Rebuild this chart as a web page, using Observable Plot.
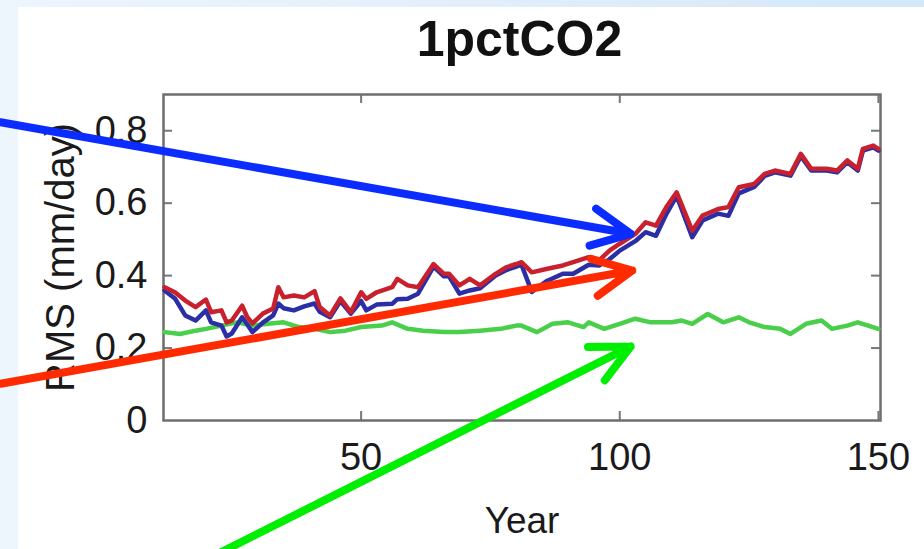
<!DOCTYPE html>
<html>
<head>
<meta charset="utf-8">
<script src="https://cdn.jsdelivr.net/npm/d3@7"></script>
<script src="https://cdn.jsdelivr.net/npm/@observablehq/plot@0.6"></script>
<style>
  html, body { margin: 0; padding: 0; background: #fff; }
  #page { position: relative; width: 924px; height: 549px; overflow: hidden;
          background: linear-gradient(90deg, #edf5fd 0%, #e2effb 50%, #d3e8f8 100%);
          font-family: "Liberation Sans", Arial, Helvetica, sans-serif; }
  #panel { position: absolute; left: 18px; top: 7px; right: 0; bottom: 0; background: #fff; }
  #title { position: relative; box-sizing: border-box; height: 75px; padding-top: 14px;
           margin-left: 155px; width: 729px; text-align: center; font-weight: bold;
           font-size: 50px; line-height: 50px; color: #111; }
  #chart { position: relative; }
</style>
</head>
<body>
<div id="page">
  <div id="panel"></div>
  <div id="title">1pctCO2</div>
  <div id="chart"></div>
</div>
<script>
const titleText = "1pctCO2";
const xLabel = "Year";
const yLabel = "RMS (mm/day)";
const xTicks = [50, 100, 150];
const yTicks = [0, 0.2, 0.4, 0.6, 0.8];
const yTickLabels = ["0", "0.2", "0.4", "0.6", "0.8"];

// Years shared by the red and blue series
const rbYears = [12,14,16,18,20,21,23,24,25,27,28,29,31,33,34,35,37,39,41,42,44,46,48,50,51,53,56,57,59,61,64,66,67,69,71,73,76,78,80,81,83,86,89,91,94,96,98,100,103,105,107,109,111,114,116,119,121,123,126,128,130,133,135,137,140,142,144,146,147,149,150];
const redValues = [0.368,0.354,0.331,0.313,0.334,0.299,0.304,0.271,0.276,0.317,0.285,0.268,0.295,0.309,0.368,0.340,0.345,0.340,0.357,0.313,0.290,0.337,0.299,0.354,0.336,0.354,0.368,0.391,0.373,0.368,0.432,0.405,0.405,0.373,0.391,0.373,0.405,0.423,0.432,0.437,0.409,0.419,0.428,0.437,0.451,0.442,0.469,0.488,0.515,0.547,0.538,0.589,0.630,0.524,0.566,0.584,0.589,0.644,0.653,0.681,0.690,0.681,0.736,0.695,0.695,0.690,0.718,0.695,0.750,0.759,0.750];
const blueValues = [0.359,0.337,0.290,0.276,0.304,0.271,0.262,0.232,0.240,0.285,0.265,0.244,0.270,0.290,0.323,0.310,0.304,0.315,0.323,0.300,0.285,0.330,0.295,0.330,0.304,0.320,0.322,0.335,0.336,0.350,0.425,0.398,0.398,0.350,0.359,0.365,0.400,0.415,0.425,0.430,0.355,0.386,0.405,0.405,0.430,0.428,0.445,0.469,0.495,0.520,0.510,0.570,0.620,0.506,0.552,0.571,0.565,0.627,0.645,0.675,0.685,0.676,0.730,0.690,0.690,0.685,0.713,0.690,0.745,0.754,0.745];

const greenYears = [12,15,18,20,23,26,29,32,35,38,41,44,47,50,54,56,59,62,66,69,73,77,80,81,84,87,90,93,94,97,100,103,106,110,112,114,117,120,123,125,128,131,133,136,139,141,144,146,148,150];
const greenValues = [0.244,0.239,0.248,0.253,0.262,0.271,0.262,0.267,0.271,0.258,0.253,0.244,0.248,0.258,0.262,0.271,0.253,0.248,0.244,0.244,0.248,0.253,0.262,0.262,0.244,0.267,0.271,0.258,0.271,0.253,0.267,0.281,0.271,0.271,0.276,0.267,0.294,0.271,0.285,0.271,0.258,0.253,0.239,0.267,0.276,0.253,0.262,0.271,0.262,0.253];

// Annotation arrows, in data units (year, value); they reach beyond the frame
const blueArrow  = {x1: -19.7, y1: 0.8235, x2: 102.1, y2: 0.5154};
const redArrow   = {x1: -19.7, y1: 0.1013, x2: 102.4, y2: 0.414};
const greenArrow = {x1: 22.8,  y1: -0.3644, x2: 102.1, y2: 0.2043};

const red = rbYears.map((year, i) => ({year, v: redValues[i]}));
const blue = rbYears.map((year, i) => ({year, v: blueValues[i]}));
const green = greenYears.map((year, i) => ({year, v: greenValues[i]}));

document.getElementById("title").textContent = titleText;

const frameW = 924 - 163 - 44;
const frameH = 474 - 19 - 129;
const tickLen = 9;

const arrowOpts = {x1: "x1", y1: "y1", x2: "x2", y2: "y2", strokeWidth: 8, headLength: 8, headAngle: 52,
                   strokeLinecap: "round", strokeLinejoin: "round"};

const chart = Plot.plot({
  width: 924,
  height: 474,
  marginTop: 19,
  marginBottom: 129,
  marginLeft: 163,
  marginRight: 44,
  style: {background: "transparent", fontFamily: "'Liberation Sans', Arial, Helvetica, sans-serif", color: "#1a1a1a", overflow: "visible"},
  x: {domain: [11.8, 150.4], label: null},
  y: {domain: [0, 0.9], label: null},
  marks: [
    Plot.axisX(xTicks, {tickSize: 0, tickPadding: 23, fontSize: 38, label: null, tickFormat: d => String(d)}),
    Plot.axisY(yTicks, {tickSize: 0, tickPadding: 16, fontSize: 38, label: null, tickFormat: (d, i) => yTickLabels[i]}),
    // inward tick marks on all four sides
    Plot.tickY(yTicks.slice(1), {y: d => d, insetRight: frameW - tickLen, stroke: "#777", strokeWidth: 2}),
    Plot.tickY(yTicks.slice(1), {y: d => d, insetLeft: frameW - tickLen, stroke: "#777", strokeWidth: 2}),
    Plot.tickX(xTicks, {x: d => d, insetTop: frameH - tickLen, stroke: "#777", strokeWidth: 2}),
    Plot.tickX(xTicks, {x: d => d, insetBottom: frameH - tickLen, stroke: "#777", strokeWidth: 2}),
    Plot.frame({stroke: "#6e6e6e", strokeWidth: 2.5}),
    Plot.line(green, {x: "year", y: "v", stroke: "#49cf49", strokeWidth: 4.5, strokeLinejoin: "round"}),
    Plot.line(blue, {x: "year", y: "v", stroke: "#2a2fa6", strokeWidth: 4.5, strokeLinejoin: "round"}),
    Plot.line(red, {x: "year", y: "v", stroke: "#c8202c", strokeWidth: 4.5, strokeLinejoin: "round"}),
    Plot.text([yLabel], {text: d => d, frameAnchor: "left", dx: -102, rotate: -90, fontSize: 40, textAnchor: "middle", lineAnchor: "middle", fill: "#1a1a1a"}),
    Plot.text([xLabel], {text: d => d, frameAnchor: "bottom", dy: 101, fontSize: 37, textAnchor: "middle", lineAnchor: "middle", fill: "#1a1a1a"}),
    Plot.arrow([blueArrow], {...arrowOpts, stroke: "#0a2cff"}),
    Plot.arrow([redArrow], {...arrowOpts, stroke: "#ff2a00"}),
    Plot.arrow([greenArrow], {...arrowOpts, stroke: "#00ee00"})
  ]
});
document.getElementById("chart").appendChild(chart);
</script>
</body>
</html>
